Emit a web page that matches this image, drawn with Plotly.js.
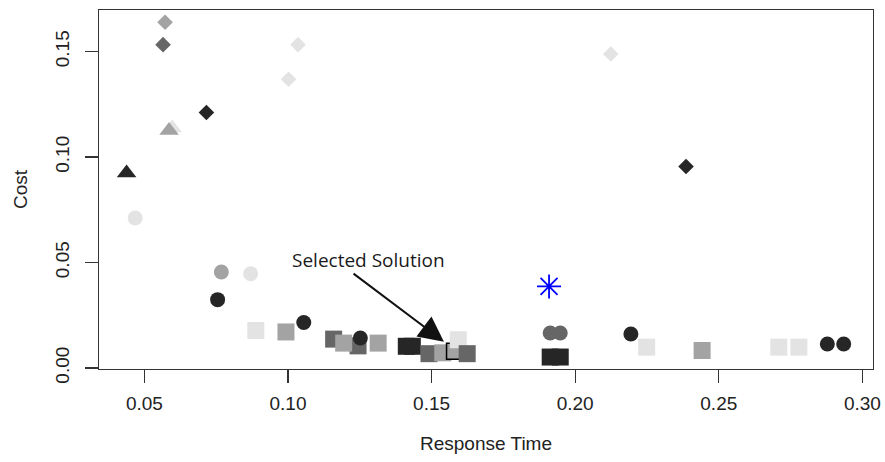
<!DOCTYPE html>
<html>
<head>
<meta charset="utf-8">
<script src="https://cdn.plot.ly/plotly-3.0.1.min.js"></script>
<style>html,body{margin:0;padding:0;background:#fff}#chart{width:885px;height:462px}</style>
</head>
<body>
<div id="chart"></div>
<script>
// ---- data (Response Time, Cost) ----
var blackDiamondX = [0.0716, 0.2386];
var blackDiamondY = [0.1211, 0.0955];
var darkDiamondX = [0.0565];
var darkDiamondY = [0.1533];
var grayDiamondX = [0.0572];
var grayDiamondY = [0.1639];
var lightDiamondX = [0.1035, 0.1002, 0.2124];
var lightDiamondY = [0.1533, 0.1369, 0.1489];

var blackTriangleX = [0.0438];
var blackTriangleY = [0.0924];
var lightTriangleX = [0.0597];
var lightTriangleY = [0.1138];
var grayTriangleX = [0.0586];
var grayTriangleY = [0.1126];

var lightCircleX = [0.0468, 0.0870];
var lightCircleY = [0.0711, 0.0447];
var grayCircleX = [0.0768];
var grayCircleY = [0.0455];
var darkCircleX = [0.1913, 0.1948];
var darkCircleY = [0.0166, 0.0166];
var blackCircleX = [0.0755, 0.1055, 0.1252, 0.2194, 0.2878, 0.2935];
var blackCircleY = [0.0324, 0.0216, 0.0142, 0.0161, 0.0114, 0.0114];

var blackSquareX = [0.1412, 0.1433, 0.1913, 0.1948];
var blackSquareY = [0.0103, 0.0103, 0.0052, 0.0052];
var darkSquareX = [0.1159, 0.1244, 0.1491];
var darkSquareY = [0.0137, 0.0105, 0.0068];
var graySquareX = [0.0993, 0.1194, 0.1314, 0.1539, 0.2442];
var graySquareY = [0.0171, 0.0118, 0.0118, 0.0072, 0.0083];
var selectedX = [0.1580];
var selectedY = [0.0080];
var lightSquareX = [0.0888, 0.1593, 0.2249, 0.2709, 0.2779];
var lightSquareY = [0.0178, 0.0134, 0.0099, 0.0099, 0.0099];
var darkSquareTopX = [0.1624];
var darkSquareTopY = [0.0068];

var idealX = [0.1909];
var idealY = [0.0387];

var xTicks = [0.05, 0.10, 0.15, 0.20, 0.25, 0.30];
var yTicks = [0.00, 0.05, 0.10, 0.15];
var annotationText = "Selected Solution";
var arrowTip = [0.1543, 0.0125];
var arrowTail = [0.1223, 0.0453];
var labelPos = [0.1281, 0.0510];

// ---- colours ----
var BLACK = '#262626', DARK = '#666666', GRAY = '#a3a3a3', LIGHT = '#e3e3e3';

function pts(x, y, symbol, color, size, line) {
  return {
    type: 'scatter', mode: 'markers', x: x, y: y, hoverinfo: 'skip',
    marker: {symbol: symbol, color: color, size: size,
             line: line || {width: 0}}
  };
}

var traces = [
  pts(grayDiamondX, grayDiamondY, 'diamond', GRAY, 12),
  pts(darkDiamondX, darkDiamondY, 'diamond', DARK, 12),
  pts(lightDiamondX, lightDiamondY, 'diamond', LIGHT, 12),
  pts(blackDiamondX, blackDiamondY, 'diamond', BLACK, 12),
  pts(lightTriangleX, lightTriangleY, 'triangle-up', LIGHT, 17),
  pts(grayTriangleX, grayTriangleY, 'triangle-up', GRAY, 17),
  pts(blackTriangleX, blackTriangleY, 'triangle-up', BLACK, 17),
  pts(blackSquareX, blackSquareY, 'square', BLACK, 17),
  pts(darkSquareX, darkSquareY, 'square', DARK, 17),
  pts(graySquareX, graySquareY, 'square', GRAY, 17),
  pts(selectedX, selectedY, 'square', GRAY, 16, {width: 1.5, color: '#000'}),
  pts(lightSquareX, lightSquareY, 'square', LIGHT, 17),
  pts(darkSquareTopX, darkSquareTopY, 'square', DARK, 17),
  pts(lightCircleX, lightCircleY, 'circle', LIGHT, 15),
  pts(grayCircleX, grayCircleY, 'circle', GRAY, 15),
  pts(darkCircleX, darkCircleY, 'circle', DARK, 15),
  pts(blackCircleX, blackCircleY, 'circle', BLACK, 15),
  pts(idealX, idealY, 'asterisk-open', '#0000ff', 20, {width: 1.8, color: '#0000ff'})
];

var axisFont = {family: 'Liberation Sans, Arial, sans-serif', size: 19, color: '#222'};

var layout = {
  width: 885, height: 462,
  margin: {l: 99, r: 12, t: 10, b: 93},
  paper_bgcolor: '#fff', plot_bgcolor: '#fff',
  showlegend: false,
  font: axisFont,
  xaxis: {
    range: [0.0342, 0.3037], autorange: false,
    tickvals: xTicks, ticktext: xTicks.map(function(v){return v.toFixed(2);}),
    ticks: 'outside', ticklen: 13, tickwidth: 1.3, tickcolor: '#333',
    showline: true, mirror: true, linecolor: '#333', linewidth: 1.3,
    showgrid: false, zeroline: false, automargin: false,
    tickfont: axisFont, ticklabelstandoff: 4,
    title: {text: 'Response Time', font: axisFont, standoff: 23}
  },
  yaxis: {
    range: [-0.00047, 0.16973], autorange: false,
    tickvals: yTicks, ticktext: yTicks.map(function(v){return v.toFixed(2);}),
    tickangle: -90,
    ticks: 'outside', ticklen: 13, tickwidth: 1.3, tickcolor: '#333',
    showline: true, mirror: true, linecolor: '#333', linewidth: 1.3,
    showgrid: false, zeroline: false, automargin: false,
    tickfont: axisFont, ticklabelstandoff: 8,
    title: {text: 'Cost', font: axisFont, standoff: 19}
  },
  annotations: [
    {x: arrowTip[0], y: arrowTip[1], xref: 'x', yref: 'y',
     ax: arrowTail[0], ay: arrowTail[1], axref: 'x', ayref: 'y',
     text: '', showarrow: true, arrowhead: 2, arrowsize: 2.5, arrowwidth: 2,
     arrowcolor: '#111', standoff: 0},
    {x: labelPos[0], y: labelPos[1], xref: 'x', yref: 'y',
     text: annotationText, showarrow: false,
     font: {family: 'Open Sans, sans-serif', size: 19, color: '#1a1a1a'}}
  ]
};

Plotly.newPlot('chart', traces, layout, {displayModeBar: false, staticPlot: true});
</script>
</body>
</html>
